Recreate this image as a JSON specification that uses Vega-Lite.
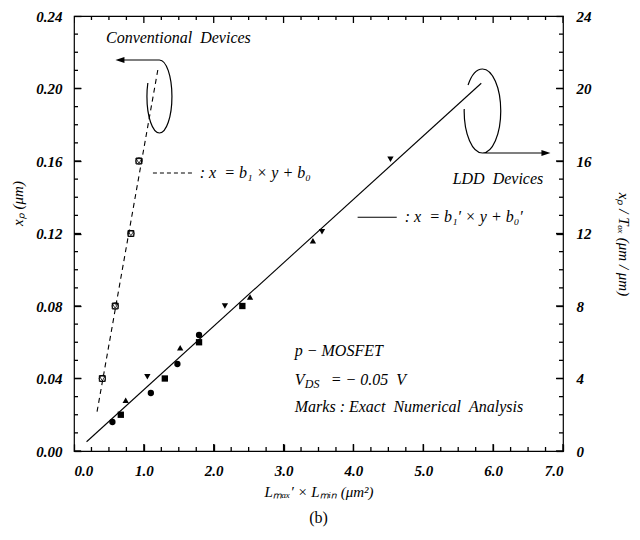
{
  "$schema": "https://vega.github.io/schema/vega-lite/v6.json",
  "width": 489,
  "height": 435,
  "autosize": {"type": "none"},
  "padding": {"left": 74, "top": 16, "right": 77, "bottom": 89},
  "title": {"text": "(b)", "orient": "bottom", "anchor": "middle", "font": "Liberation Serif", "fontSize": 16, "fontWeight": "normal", "color": "black", "offset": 11},
  "config": {
    "view": {"stroke": "black", "strokeWidth": 1.2},
    "axis": {"grid": false, "labelColor": "black", "titleColor": "black", "labelFont": "Liberation Serif", "titleFont": "Liberation Serif", "labelFontStyle": "italic", "labelFontWeight": "bold", "labelFontSize": 15, "titleFontSize": 15, "titleFontWeight": "normal", "titleFontStyle": "italic"}
  },
  "resolve": {"axis": {"x": "independent", "y": "independent"}},
  "datasets": {
    "ldd": [
      {"x": 0.55, "y": 0.016, "shape": "circle"},
      {"x": 1.10, "y": 0.032, "shape": "circle"},
      {"x": 1.48, "y": 0.048, "shape": "circle"},
      {"x": 1.79, "y": 0.064, "shape": "circle"},
      {"x": 0.67, "y": 0.020, "shape": "square"},
      {"x": 1.30, "y": 0.040, "shape": "square"},
      {"x": 1.79, "y": 0.060, "shape": "square"},
      {"x": 2.41, "y": 0.080, "shape": "square"},
      {"x": 0.74, "y": 0.028, "shape": "triangle-up"},
      {"x": 1.52, "y": 0.057, "shape": "triangle-up"},
      {"x": 2.52, "y": 0.085, "shape": "triangle-up"},
      {"x": 3.42, "y": 0.116, "shape": "triangle-up"},
      {"x": 1.05, "y": 0.041, "shape": "triangle-down"},
      {"x": 2.16, "y": 0.080, "shape": "triangle-down"},
      {"x": 3.55, "y": 0.121, "shape": "triangle-down"},
      {"x": 4.53, "y": 0.161, "shape": "triangle-down"}
    ],
    "conv": [
      {"x": 0.405, "y": 0.040},
      {"x": 0.59, "y": 0.080},
      {"x": 0.815, "y": 0.120},
      {"x": 0.93, "y": 0.160}
    ],
    "convfit": [{"x": 0.33, "y": 0.0217}, {"x": 1.20, "y": 0.2103}],
    "lddfit": [{"x": 0.18, "y": 0.0051}, {"x": 5.83, "y": 0.2029}],
    "tx": [
      {"v": 0, "kind": "major"}, {"v": 0.25, "kind": "minor"}, {"v": 0.5, "kind": "minor"}, {"v": 0.75, "kind": "minor"},
      {"v": 1, "kind": "major"}, {"v": 1.25, "kind": "minor"}, {"v": 1.5, "kind": "minor"}, {"v": 1.75, "kind": "minor"},
      {"v": 2, "kind": "major"}, {"v": 2.25, "kind": "minor"}, {"v": 2.5, "kind": "minor"}, {"v": 2.75, "kind": "minor"},
      {"v": 3, "kind": "major"}, {"v": 3.25, "kind": "minor"}, {"v": 3.5, "kind": "minor"}, {"v": 3.75, "kind": "minor"},
      {"v": 4, "kind": "major"}, {"v": 4.25, "kind": "minor"}, {"v": 4.5, "kind": "minor"}, {"v": 4.75, "kind": "minor"},
      {"v": 5, "kind": "major"}, {"v": 5.25, "kind": "minor"}, {"v": 5.5, "kind": "minor"}, {"v": 5.75, "kind": "minor"},
      {"v": 6, "kind": "major"}, {"v": 6.25, "kind": "minor"}, {"v": 6.5, "kind": "minor"}, {"v": 6.75, "kind": "minor"},
      {"v": 7, "kind": "major"}
    ],
    "ty": [
      {"v": 0, "kind": "major"}, {"v": 0.01, "kind": "minor"}, {"v": 0.02, "kind": "minor"}, {"v": 0.03, "kind": "minor"},
      {"v": 0.04, "kind": "major"}, {"v": 0.05, "kind": "minor"}, {"v": 0.06, "kind": "minor"}, {"v": 0.07, "kind": "minor"},
      {"v": 0.08, "kind": "major"}, {"v": 0.09, "kind": "minor"}, {"v": 0.1, "kind": "minor"}, {"v": 0.11, "kind": "minor"},
      {"v": 0.12, "kind": "major"}, {"v": 0.13, "kind": "minor"}, {"v": 0.14, "kind": "minor"}, {"v": 0.15, "kind": "minor"},
      {"v": 0.16, "kind": "major"}, {"v": 0.17, "kind": "minor"}, {"v": 0.18, "kind": "minor"}, {"v": 0.19, "kind": "minor"},
      {"v": 0.2, "kind": "major"}, {"v": 0.21, "kind": "minor"}, {"v": 0.22, "kind": "minor"}, {"v": 0.23, "kind": "minor"},
      {"v": 0.24, "kind": "major"}
    ]
  },
  "layer": [
    {
      "data": {"name": "convfit"},
      "mark": {"type": "line", "stroke": "black", "strokeWidth": 1.1, "strokeDash": [5, 4]},
      "encoding": {
        "x": {"field": "x", "type": "quantitative", "scale": {"domain": [0, 7], "nice": false},
          "axis": {"orient": "bottom", "values": [0, 1, 2, 3, 4, 5, 6, 7], "format": ".1f", "domain": false, "ticks": true, "tickColor": "black", "tickWidth": 1.3, "offset": -7, "tickSize": 7, "labelPadding": 12, "title": "Lₘₐₓ′ × Lₘᵢₙ  (μm²)", "titlePadding": 6}},
        "y": {"field": "y", "type": "quantitative", "scale": {"domain": [0, 0.24], "nice": false},
          "axis": {"orient": "left", "values": [0, 0.04, 0.08, 0.12, 0.16, 0.2, 0.24], "format": ".2f", "domain": false, "ticks": true, "tickColor": "black", "tickWidth": 1.3, "offset": -7, "tickSize": 7, "labelPadding": 12, "title": "xₚ  (μm)", "titlePadding": 10, "titleY": 187}}
      }
    },
    {
      "data": {"name": "lddfit"},
      "mark": {"type": "line", "stroke": "black", "strokeWidth": 1.1},
      "encoding": {
        "x": {"field": "x", "type": "quantitative", "axis": null},
        "y": {"field": "y", "type": "quantitative", "axis": null}
      }
    },
    {
      "data": {"name": "ldd"},
      "mark": {"type": "point", "filled": true, "color": "black", "opacity": 1, "size": 40},
      "encoding": {
        "x": {"field": "x", "type": "quantitative", "axis": null},
        "y": {"field": "y", "type": "quantitative", "scale": {"domain": [0, 0.24], "nice": false},
          "axis": {"orient": "right", "values": [0, 0.04, 0.08, 0.12, 0.16, 0.2, 0.24], "labelExpr": "format(datum.value*100, 'd')", "domain": false, "ticks": true, "tickColor": "black", "tickWidth": 1.3, "offset": -7, "tickSize": 7, "labelPadding": 13, "title": "xₚ / Tₒₓ   (μm / μm)", "titleFontSize": 15, "titlePadding": 24, "titleY": 228}},
        "shape": {"field": "shape", "type": "nominal", "scale": {"domain": ["circle", "square", "triangle-up", "triangle-down"], "range": ["circle", "square", "triangle-up", "triangle-down"]}, "legend": null}
      }
    },
    {
      "data": {"name": "tx"},
      "mark": {"type": "tick", "orient": "vertical", "color": "black", "thickness": 1.3, "opacity": 1, "clip": true},
      "encoding": {
        "x": {"field": "v", "type": "quantitative", "axis": null},
        "y": {"datum": 0, "type": "quantitative", "axis": null},
        "size": {"field": "kind", "type": "nominal", "scale": {"domain": ["major", "minor"], "range": [14, 8]}, "legend": null}
      }
    },
    {
      "data": {"name": "tx"},
      "mark": {"type": "tick", "orient": "vertical", "color": "black", "thickness": 1.3, "opacity": 1, "clip": true},
      "encoding": {
        "x": {"field": "v", "type": "quantitative", "axis": null},
        "y": {"datum": 0.24, "type": "quantitative", "axis": null},
        "size": {"field": "kind", "type": "nominal", "scale": {"domain": ["major", "minor"], "range": [14, 8]}, "legend": null}
      }
    },
    {
      "data": {"name": "ty"},
      "mark": {"type": "tick", "orient": "horizontal", "color": "black", "thickness": 1.3, "opacity": 1, "clip": true},
      "encoding": {
        "y": {"field": "v", "type": "quantitative", "axis": null},
        "x": {"datum": 0, "type": "quantitative", "axis": null},
        "size": {"field": "kind", "type": "nominal", "scale": {"domain": ["major", "minor"], "range": [14, 8]}, "legend": null}
      }
    },
    {
      "data": {"name": "ty"},
      "mark": {"type": "tick", "orient": "horizontal", "color": "black", "thickness": 1.3, "opacity": 1, "clip": true},
      "encoding": {
        "y": {"field": "v", "type": "quantitative", "axis": null},
        "x": {"datum": 7, "type": "quantitative", "axis": null},
        "size": {"field": "kind", "type": "nominal", "scale": {"domain": ["major", "minor"], "range": [14, 8]}, "legend": null}
      }
    },
    {
      "data": {"name": "conv"},
      "mark": {"type": "point", "shape": "circle", "filled": false, "stroke": "black", "strokeWidth": 0.9, "opacity": 1, "size": 40},
      "encoding": {
        "x": {"field": "x", "type": "quantitative", "axis": null},
        "y": {"field": "y", "type": "quantitative", "axis": null}
      }
    },
    {
      "data": {"name": "conv"},
      "mark": {"type": "point", "shape": "square", "filled": false, "stroke": "black", "strokeWidth": 0.9, "opacity": 1, "size": 36},
      "encoding": {
        "x": {"field": "x", "type": "quantitative", "axis": null},
        "y": {"field": "y", "type": "quantitative", "axis": null}
      }
    },
    {
      "data": {"name": "conv"},
      "mark": {"type": "point", "shape": "triangle-down", "filled": false, "stroke": "black", "strokeWidth": 0.8, "opacity": 1, "size": 30},
      "encoding": {
        "x": {"field": "x", "type": "quantitative", "axis": null},
        "y": {"field": "y", "type": "quantitative", "axis": null}
      }
    },
    {
      "data": {"values": [{"x": 1.223, "y": 0.1956}]},
      "mark": {"type": "point", "shape": "M 0,-36.5 C 6.9,-36.5 12.5,-20.16 12.5,0 C 12.5,20.16 6.9,36.5 0,36.5 C -6.9,36.5 -12.5,20.16 -12.5,0 C -12.5,-4.6 -12.2,-9.2 -11.6,-13.5 M 0,-36.5 L -38,-36.5", "size": 4, "filled": false, "stroke": "black", "strokeWidth": 1.2, "opacity": 1},
      "encoding": {
        "x": {"field": "x", "type": "quantitative", "axis": null},
        "y": {"field": "y", "type": "quantitative", "axis": null}
      }
    },
    {
      "data": {"values": [{"x": 1.223, "y": 0.1956}]},
      "mark": {"type": "point", "shape": "M -44,-36.5 L -35,-39.5 L -35,-33.5 Z", "size": 4, "filled": true, "fill": "black", "strokeWidth": 0, "opacity": 1},
      "encoding": {
        "x": {"field": "x", "type": "quantitative", "axis": null},
        "y": {"field": "y", "type": "quantitative", "axis": null}
      }
    },
    {
      "data": {"values": [{"x": 5.847, "y": 0.1876}]},
      "mark": {"type": "point", "shape": "M -14.4,-26 C -10.9,-36.2 -5.6,-42 0,-42 C 10.1,-42 18.3,-23.2 18.3,0 C 18.3,23.2 10.1,42 0,42 C -10.1,42 -18.3,23.2 -18.3,0 L -18.2,-2 M 0,42 L 60,42", "size": 4, "filled": false, "stroke": "black", "strokeWidth": 1.2, "opacity": 1},
      "encoding": {
        "x": {"field": "x", "type": "quantitative", "axis": null},
        "y": {"field": "y", "type": "quantitative", "axis": null}
      }
    },
    {
      "data": {"values": [{"x": 5.847, "y": 0.1876}]},
      "mark": {"type": "point", "shape": "M 68,42 L 59,39 L 59,45 Z", "size": 4, "filled": true, "fill": "black", "strokeWidth": 0, "opacity": 1},
      "encoding": {
        "x": {"field": "x", "type": "quantitative", "axis": null},
        "y": {"field": "y", "type": "quantitative", "axis": null}
      }
    },
    {
      "data": {"values": [{"x": 1.13, "x2": 1.69, "y": 0.1534}]},
      "mark": {"type": "rule", "stroke": "black", "strokeWidth": 1.1, "strokeDash": [4, 3]},
      "encoding": {
        "x": {"field": "x", "type": "quantitative", "axis": null},
        "x2": {"field": "x2"},
        "y": {"field": "y", "type": "quantitative", "axis": null}
      }
    },
    {
      "data": {"values": [{"x": 4.06, "x2": 4.62, "y": 0.129}]},
      "mark": {"type": "rule", "stroke": "black", "strokeWidth": 1.1},
      "encoding": {
        "x": {"field": "x", "type": "quantitative", "axis": null},
        "x2": {"field": "x2"},
        "y": {"field": "y", "type": "quantitative", "axis": null}
      }
    },
    {
      "data": {"values": [
        {"x": 0.458, "y": 0.228, "label": "Conventional\u00a0\u00a0Devices"},
        {"x": 1.80, "y": 0.1534, "label": ": x\u00a0\u00a0=\u00a0b₁\u00a0×\u00a0y\u00a0+\u00a0b₀"},
        {"x": 5.42, "y": 0.150, "label": "LDD\u00a0\u00a0Devices"},
        {"x": 4.735, "y": 0.129, "label": ": x\u00a0\u00a0=\u00a0b₁′\u00a0×\u00a0y\u00a0+\u00a0b₀′"},
        {"x": 3.16, "y": 0.0552, "label": "p\u00a0−\u00a0MOSFET"},
        {"x": 3.16, "y": 0.0243, "label": "Marks : Exact\u00a0\u00a0Numerical\u00a0\u00a0Analysis"}
      ]},
      "mark": {"type": "text", "font": "Liberation Serif", "fontStyle": "italic", "fontSize": 16, "align": "left", "baseline": "middle", "color": "black"},
      "encoding": {
        "x": {"field": "x", "type": "quantitative", "axis": null},
        "y": {"field": "y", "type": "quantitative", "axis": null},
        "text": {"field": "label"}
      }
    },
    {
      "data": {"values": [{"x": 3.16, "y": 0.0392, "label": "V"}]},
      "mark": {"type": "text", "font": "Liberation Serif", "fontStyle": "italic", "fontSize": 16, "align": "left", "baseline": "middle", "color": "black"},
      "encoding": {
        "x": {"field": "x", "type": "quantitative", "axis": null},
        "y": {"field": "y", "type": "quantitative", "axis": null},
        "text": {"field": "label"}
      }
    },
    {
      "data": {"values": [{"x": 3.16, "y": 0.0392, "label": "DS"}]},
      "mark": {"type": "text", "font": "Liberation Serif", "fontStyle": "italic", "fontSize": 12, "align": "left", "baseline": "middle", "color": "black", "dx": 10, "dy": 4},
      "encoding": {
        "x": {"field": "x", "type": "quantitative", "axis": null},
        "y": {"field": "y", "type": "quantitative", "axis": null},
        "text": {"field": "label"}
      }
    },
    {
      "data": {"values": [{"x": 3.16, "y": 0.0392, "label": "=\u00a0−\u00a00.05\u00a0\u00a0V"}]},
      "mark": {"type": "text", "font": "Liberation Serif", "fontStyle": "italic", "fontSize": 16, "align": "left", "baseline": "middle", "color": "black", "dx": 36},
      "encoding": {
        "x": {"field": "x", "type": "quantitative", "axis": null},
        "y": {"field": "y", "type": "quantitative", "axis": null},
        "text": {"field": "label"}
      }
    }
  ]
}
